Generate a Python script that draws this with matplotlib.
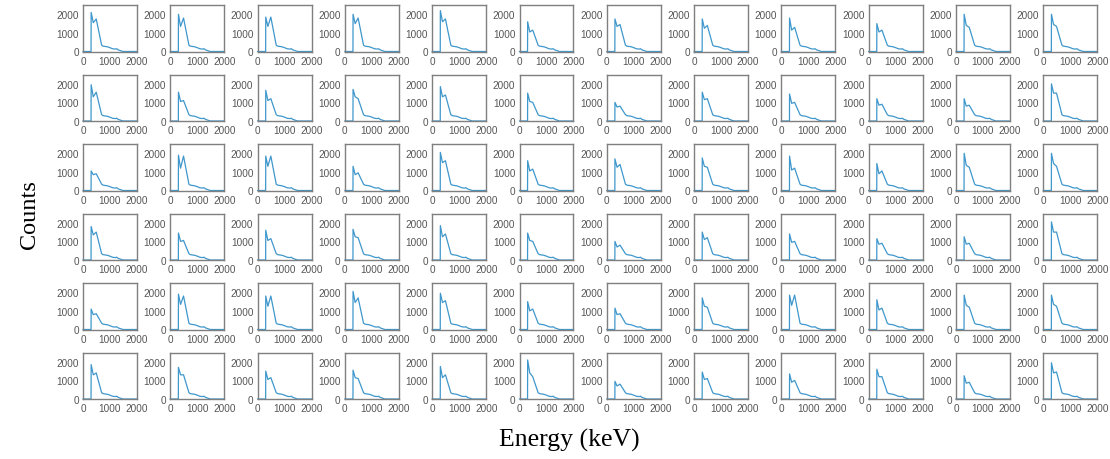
import numpy as np
import matplotlib
matplotlib.use("Agg")
import matplotlib.pyplot as plt

# --- DATA ---
# peak at ~300 keV, dip at ~380 keV, second peak at ~490 keV, per panel (6 rows x 12 cols)
PEAK1 = [
    [2100, 2000, 1850, 2000, 2200, 1600, 1750, 1750, 1800, 1500, 2000, 2000],
    [1950, 1550, 1650, 1700, 1850, 1500, 1000, 1550, 1450, 1200, 1200, 2000],
    [1050, 1900, 1850, 1300, 2050, 1600, 1700, 1750, 1850, 1450, 2000, 2000],
    [1800, 1450, 1600, 1650, 1850, 1450, 1000, 1500, 1400, 1150, 1250, 2050],
    [1100, 1900, 1800, 2050, 1950, 1500, 1150, 1700, 1850, 1600, 1850, 1850],
    [1850, 1700, 1500, 1550, 1750, 2100, 950, 1450, 1350, 1600, 1250, 1950],
]
DIP = [
    [1550, 1350, 1350, 1500, 1600, 1050, 1350, 1250, 1150, 1050, 1400, 1450],
    [1300, 1050, 1100, 1300, 1300, 1050, 750, 1150, 950, 850, 800, 1500],
    [850, 1200, 1300, 850, 1500, 1050, 1250, 1300, 1100, 900, 1350, 1450],
    [1350, 1000, 1050, 1250, 1250, 1050, 700, 1100, 950, 850, 850, 1500],
    [800, 1350, 1250, 1450, 1450, 1000, 800, 1250, 1300, 1050, 1300, 1350],
    [1300, 1300, 1050, 1150, 1150, 1400, 700, 1050, 900, 1200, 850, 1400],
]
PEAK2 = [
    [1750, 1800, 1850, 1800, 1750, 1150, 1450, 1400, 1300, 1150, 1300, 1350],
    [1550, 1100, 1200, 1200, 1400, 1000, 800, 1200, 1000, 900, 850, 1500],
    [900, 1850, 1850, 950, 1600, 1150, 1400, 1250, 1200, 1050, 1250, 1300],
    [1500, 1050, 1150, 1200, 1400, 1000, 800, 1200, 1000, 900, 900, 1500],
    [850, 1800, 1800, 1700, 1550, 1100, 850, 1200, 1850, 1150, 1200, 1250],
    [1400, 1300, 1150, 1100, 1300, 1200, 800, 1100, 1000, 1200, 900, 1450],
]
# shared energies of the leading edge and peaks (keV)
E_HEAD = [0, 298, 302, 380, 490]
# shared Compton tail
E_TAIL = [690, 740, 800, 900, 1000, 1100, 1200, 1250, 1300, 1400, 1480, 2000]
C_TAIL = [340, 290, 275, 255, 205, 145, 130, 150, 90, 40, 0, 0]

XTICKS = [0, 1000, 2000]
YTICKS = [0, 1000, 2000]

LINE_COLOR = "#3f97cc"
SPINE_COLOR = "#7f7f7f"
TICK_COLOR = "#555555"

fig = plt.figure(figsize=(11.1, 4.6), dpi=100)
W, H = 1110.0, 460.0
left0, top0 = 83, 6
dx, dy = 87.3, 69.5
aw, ah = 54, 46.5

for r in range(6):
    for c in range(12):
        x0 = left0 + c * dx
        y0 = top0 + r * dy
        ax = fig.add_axes([x0 / W, 1 - (y0 + ah) / H, aw / W, ah / H])
        e = E_HEAD + E_TAIL
        cnt = [0, 0, PEAK1[r][c], DIP[r][c], PEAK2[r][c]] + C_TAIL
        ax.plot(e, cnt, color=LINE_COLOR, lw=0.9, clip_on=False)
        ax.set_xlim(0, 2000)
        ax.set_ylim(0, 2500)
        ax.set_xticks(XTICKS)
        ax.set_yticks(YTICKS)
        ax.tick_params(length=0, labelsize=7.2, colors=TICK_COLOR, pad=3)
        for s in ax.spines.values():
            s.set_color(SPINE_COLOR)
            s.set_linewidth(1.0)
        for lab in ax.get_xticklabels() + ax.get_yticklabels():
            lab.set_family("Liberation Sans")

fig.text(30 / W, 1 - 215 / H, "Counts", rotation=90, ha="center", va="center",
         family="Liberation Serif", fontsize=17.5)
fig.text(569 / W, 1 - 440 / H, "Energy (keV)", ha="center", va="center",
         family="Liberation Serif", fontsize=18.5)

fig.savefig("out.png", dpi=100)
